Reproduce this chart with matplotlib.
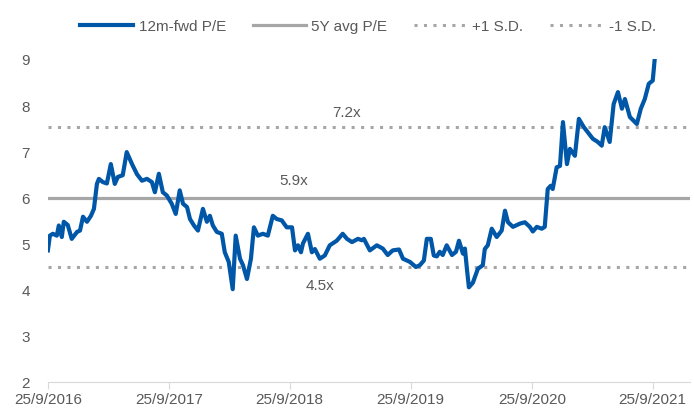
import numpy as np
import pandas as pd
import matplotlib
matplotlib.use("Agg")
import matplotlib.pyplot as plt
import matplotlib.dates as mdates

plt.rcParams['font.family'] = ['Liberation Sans', 'DejaVu Sans']

# 12m-fwd P/E
dates = [
    "2016-09-25", "2016-10-01", "2016-10-10", "2016-10-22", "2016-10-28", "2016-11-06",
    "2016-11-12", "2016-11-24", "2016-12-06", "2016-12-22", "2016-12-31", "2017-01-09",
    "2017-01-21", "2017-02-02", "2017-02-11", "2017-02-20", "2017-02-26", "2017-03-10",
    "2017-03-22", "2017-04-03", "2017-04-15", "2017-04-24", "2017-05-09", "2017-05-21",
    "2017-06-06", "2017-06-21", "2017-07-06", "2017-07-21", "2017-08-05", "2017-08-14",
    "2017-08-26", "2017-09-07", "2017-09-19", "2017-10-04", "2017-10-16", "2017-10-28",
    "2017-11-07", "2017-11-19", "2017-11-28", "2017-12-10", "2017-12-22", "2018-01-06",
    "2018-01-18", "2018-01-27", "2018-02-05", "2018-02-17", "2018-03-04", "2018-03-13",
    "2018-03-25", "2018-04-06", "2018-04-15", "2018-04-28", "2018-05-07", "2018-05-19",
    "2018-05-31", "2018-06-09", "2018-06-21", "2018-07-06", "2018-07-21", "2018-08-05",
    "2018-08-17", "2018-09-01", "2018-09-16", "2018-10-02", "2018-10-11", "2018-10-20",
    "2018-10-29", "2018-11-04", "2018-11-19", "2018-12-01", "2018-12-10", "2018-12-25",
    "2019-01-09", "2019-01-24", "2019-02-14", "2019-03-04", "2019-03-17", "2019-04-01",
    "2019-04-19", "2019-05-01", "2019-05-07", "2019-05-25", "2019-06-15", "2019-07-03",
    "2019-07-18", "2019-08-02", "2019-08-21", "2019-09-02", "2019-09-23", "2019-10-11",
    "2019-10-23", "2019-11-04", "2019-11-13", "2019-11-25", "2019-12-04", "2019-12-13",
    "2019-12-22", "2019-12-31", "2020-01-12", "2020-01-28", "2020-02-09", "2020-02-18",
    "2020-03-01", "2020-03-07", "2020-03-13", "2020-03-19", "2020-03-31", "2020-04-15",
    "2020-04-30", "2020-05-06", "2020-05-15", "2020-05-27", "2020-06-11", "2020-06-26",
    "2020-07-06", "2020-07-15", "2020-07-30", "2020-08-20", "2020-09-04", "2020-09-19",
    "2020-09-28", "2020-10-10", "2020-10-25", "2020-11-03", "2020-11-12", "2020-11-21",
    "2020-11-27", "2020-12-09", "2020-12-19", "2020-12-28", "2021-01-09", "2021-01-18",
    "2021-02-02", "2021-02-14", "2021-03-01", "2021-03-13", "2021-03-28", "2021-04-12",
    "2021-04-24", "2021-05-03", "2021-05-18", "2021-05-30", "2021-06-12", "2021-06-24",
    "2021-07-03", "2021-07-18", "2021-08-08", "2021-08-20", "2021-09-01", "2021-09-13",
    "2021-09-25", "2021-10-01",
]
pe = [
    4.85, 5.17, 5.21, 5.17, 5.39, 5.14,
    5.47, 5.40, 5.10, 5.25, 5.28, 5.58,
    5.47, 5.60, 5.75, 6.29, 6.40, 6.33,
    6.30, 6.72, 6.29, 6.44, 6.48, 6.98,
    6.72, 6.50, 6.36, 6.40, 6.33, 6.11,
    6.51, 6.11, 6.04, 5.86, 5.64, 6.15,
    5.86, 5.79, 5.53, 5.39, 5.28, 5.75,
    5.47, 5.60, 5.39, 5.25, 5.21, 4.81,
    4.60, 4.01, 5.17, 4.67, 4.53, 4.23,
    4.67, 5.35, 5.17, 5.21, 5.17, 5.60,
    5.53, 5.50, 5.35, 5.35, 4.85, 4.96,
    4.81, 5.00, 5.21, 4.81, 4.88, 4.67,
    4.74, 4.96, 5.06, 5.21, 5.10, 5.03,
    5.10, 5.07, 5.10, 4.85, 4.96, 4.89,
    4.75, 4.85, 4.87, 4.67, 4.60, 4.49,
    4.53, 4.63, 5.10, 5.10, 4.74, 4.72,
    4.82, 4.75, 4.96, 4.75, 4.82, 5.06,
    4.78, 4.89, 4.45, 4.05, 4.15, 4.45,
    4.53, 4.88, 4.96, 5.32, 5.14, 5.28,
    5.71, 5.46, 5.36, 5.43, 5.46, 5.36,
    5.26, 5.36, 5.32, 5.36, 6.18, 6.25,
    6.18, 6.65, 6.68, 7.63, 6.72, 7.05,
    6.90, 7.70, 7.52, 7.41, 7.27, 7.20,
    7.12, 7.52, 7.20, 8.02, 8.28, 7.92,
    8.13, 7.74, 7.59, 7.92, 8.13, 8.46,
    8.53, 9.00,
]
avg_pe = 5.99
plus_sd = 7.53
minus_sd = 4.49
tick_dates = ["2016-09-25", "2017-09-25", "2018-09-25", "2019-09-25", "2020-09-25", "2021-09-25"]
tick_labels = ["25/9/2016", "25/9/2017", "25/9/2018", "25/9/2019", "25/9/2020", "25/9/2021"]

x = pd.to_datetime(dates)
xt = pd.to_datetime(tick_dates)

blue = "#0057A8"
grey = "#A6A6A6"
txt = "#595959"

fig = plt.figure(figsize=(6.94, 4.10), dpi=100)
ax = fig.add_axes([0.069, 0.066, 0.925, 0.788])

ax.axhline(avg_pe, color=grey, lw=2.3, label="5Y avg P/E", zorder=2)
ax.axhline(plus_sd, color=grey, lw=2.2, ls=(0, (1, 2.1)), label="+1 S.D.", zorder=2)
ax.axhline(minus_sd, color=grey, lw=2.2, ls=(0, (1, 2.1)), label="-1 S.D.", zorder=2)
ax.plot(x, pe, color=blue, lw=3, label="12m-fwd P/E", zorder=3, solid_joinstyle="round")

ax.text(pd.Timestamp("2019-03-16"), 7.85, "7.2x", ha="center", va="center", fontsize=11, color=txt)
ax.text(pd.Timestamp("2018-10-08"), 6.38, "5.9x", ha="center", va="center", fontsize=11, color=txt)
ax.text(pd.Timestamp("2018-12-25"), 4.1, "4.5x", ha="center", va="center", fontsize=11, color=txt)

ax.set_xlim(pd.Timestamp("2016-09-25"), pd.Timestamp("2022-01-15"))
ax.set_ylim(2, 9)
ax.set_yticks(range(2, 10))
ax.set_xticks(xt)
ax.set_xticklabels(tick_labels)

for s in ["top", "right", "left"]:
    ax.spines[s].set_visible(False)
ax.spines["bottom"].set_color("#D9D9D9")
ax.tick_params(axis="y", length=0, pad=13, labelsize=11, labelcolor=txt)
ax.tick_params(axis="x", length=5, color="#D9D9D9", pad=2, labelsize=11, labelcolor=txt)

h, l = ax.get_legend_handles_labels()
order = [3, 0, 1, 2]
fig.legend([h[i] for i in order], [l[i] for i in order], loc="upper center",
           bbox_to_anchor=(0.53, 0.985), ncol=4, frameon=False, fontsize=11,
           handlelength=3.5, handletextpad=0.33, columnspacing=1.75, labelcolor=txt)

fig.savefig("out.png", dpi=100)
